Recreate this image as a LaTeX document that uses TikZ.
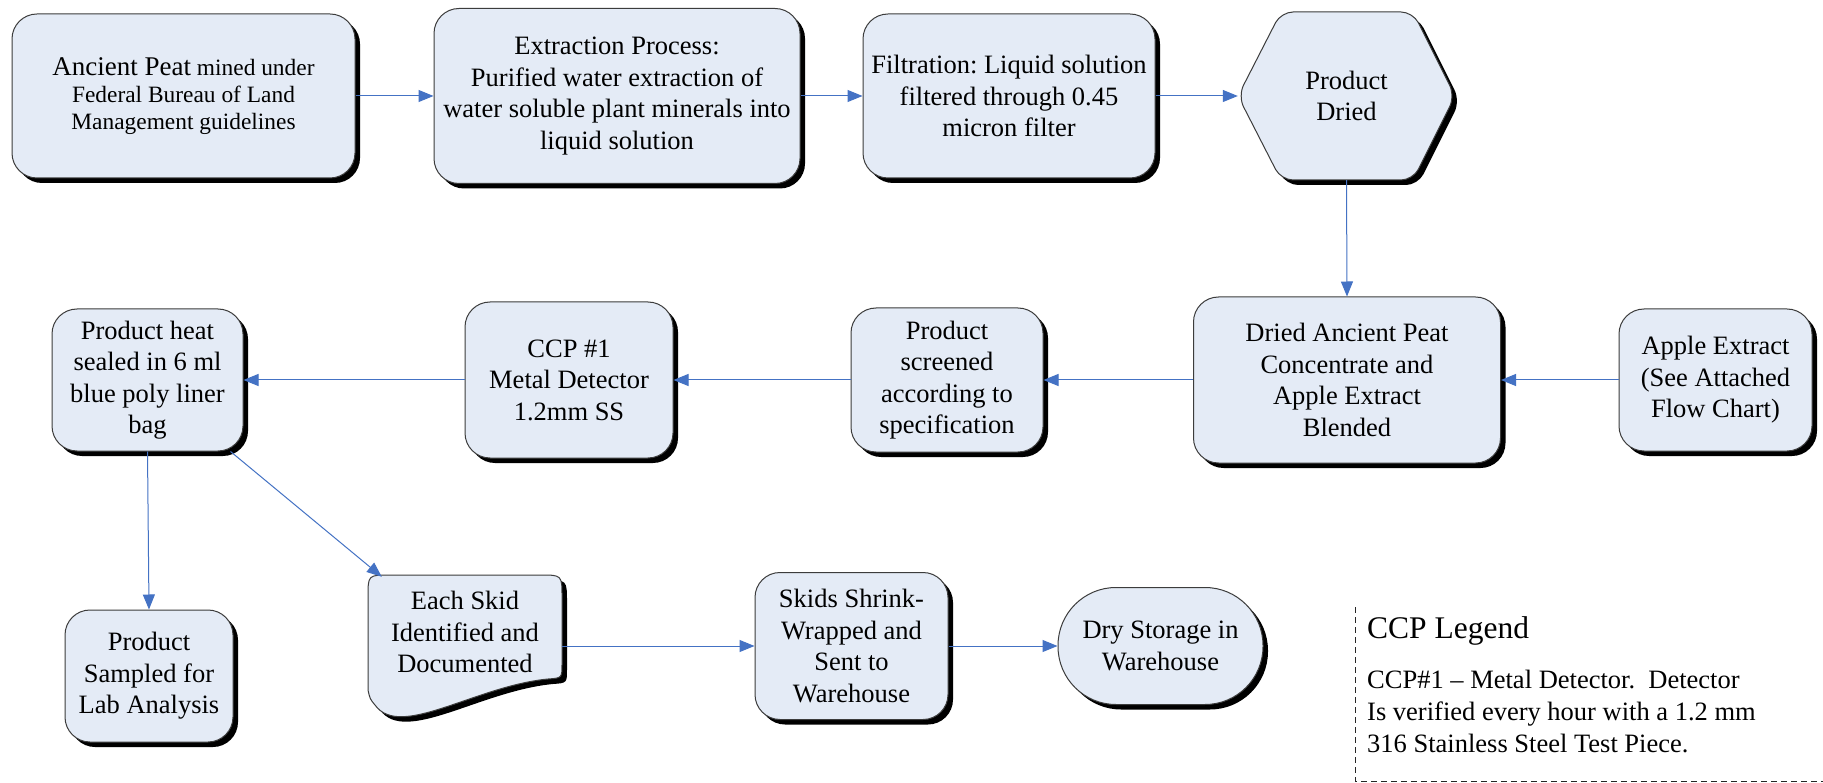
\documentclass[tikz,border=0pt]{standalone}
\usepackage{fontspec}
\setmainfont{Liberation Serif}
\frenchspacing
\usetikzlibrary{arrows.meta,shadows,calc}
\definecolor{boxfill}{RGB}{228,235,246}
\definecolor{arrowblue}{RGB}{68,114,196}
\definecolor{boxline}{RGB}{60,60,60}
\tikzset{
  shad/.style={drop shadow={shadow xshift=5pt,shadow yshift=-5pt,fill=black,opacity=1}},
  shapestyle/.style={draw=boxline,line width=1pt,fill=boxfill,shad},
  procbox/.style={shapestyle,rounded corners=25pt,inner sep=0pt,align=center,font=\fontsize{26.5}{31.5}\selectfont},
  conn/.style={draw=arrowblue,line width=1pt,-{Triangle[length=15pt,width=12pt]}},
  txt/.style={inner sep=0pt,align=center,font=\fontsize{26.5}{31.5}\selectfont},
  ghost/.style={inner sep=0pt,draw=none,fill=none},
  legendline/.style={draw=black!85,line width=1pt,dash pattern=on 6pt off 4pt},
  legendtxt/.style={anchor=base west,inner sep=0pt,font=\fontsize{26.5}{32}\selectfont},
}
\begin{document}
\begin{tikzpicture}[x=1pt,y=-1pt]
\useasboundingbox (0,0) rectangle (1823,783);
\fill[white] (0,0) rectangle (1823,783);

% Row 1
\node[procbox,minimum width=343pt,minimum height=164pt,font=\fontsize{23.4}{27}\selectfont] (peat) at (183.5,96)
  {{\fontsize{27}{27}\selectfont Ancient Peat} mined under\\Federal Bureau of Land\\Management guidelines};
\node[procbox,minimum width=366pt,minimum height=175pt] (extr) at (617,96)
  {Extraction Process:\\Purified water extraction of\\water soluble plant minerals into\\liquid solution};
\node[procbox,minimum width=292pt,minimum height=164pt] (filt) at (1009,96)
  {Filtration: Liquid solution\\filtered through 0.45\\micron filter};
\node[ghost,minimum width=217pt,minimum height=168pt] (hex) at (1346.5,96) {};
\path[shapestyle,rounded corners=12pt] (1238,96) -- (1281,12) -- (1413,12) -- (1455,96) -- (1413,180) -- (1281,180) -- cycle;
\node[txt] (hextext) at (1346.5,96) {Product\\Dried};

% Row 2
\node[procbox,minimum width=307pt,minimum height=166pt] (dried) at (1347,380)
  {Dried Ancient Peat\\Concentrate and\\Apple Extract\\Blended};
\node[procbox,minimum width=193pt,minimum height=142pt] (apple) at (1715.5,380)
  {Apple Extract\\(See Attached\\Flow Chart)};
\node[procbox,minimum width=192pt,minimum height=144pt] (scr) at (947,380)
  {Product\\screened\\according to\\specification};
\node[procbox,minimum width=208pt,minimum height=156pt] (ccp) at (569,380)
  {CCP \#1\\Metal Detector\\1.2mm SS};
\node[procbox,minimum width=191pt,minimum height=142pt] (heat) at (147.5,380)
  {Product heat\\sealed in 6 ml\\blue poly liner\\bag};

% Row 3
\node[procbox,minimum width=168pt,minimum height=132pt] (samp) at (149,676)
  {Product\\Sampled for\\Lab Analysis};
\node[ghost,minimum width=194pt,minimum height=142pt] (skid) at (465,646) {};
\path[shapestyle] (368,690) -- (368,597)
  .. controls (368,575) .. (390,575) -- (540,575)
  .. controls (562,575) .. (562,597) -- (562,664)
  .. controls (562,678) .. (548,679)
  .. controls (475,686) and (400,740) .. (375,705)
  .. controls (370,699) .. (368,690) -- cycle;
\node[txt] (skidtext) at (465,632) {Each Skid\\Identified and\\Documented};
\node[procbox,minimum width=193pt,minimum height=147pt] (shrink) at (851.5,646)
  {Skids Shrink-\\Wrapped and\\Sent to\\Warehouse};
\node[procbox,rounded corners=58pt,minimum width=205pt,minimum height=117pt] (dry) at (1160.5,646)
  {Dry Storage in\\Warehouse};

% Connectors
\draw[conn] (peat.east) -- (extr.west);
\draw[conn] (extr.east) -- (filt.west);
\draw[conn] (filt.east) -- (hex.west);
\draw[conn] (hex.south) -- (dried.north);
\draw[conn] (apple.west) -- (dried.east);
\draw[conn] (dried.west) -- (scr.east);
\draw[conn] (scr.west) -- (ccp.east);
\draw[conn] (ccp.west) -- (heat.east);
\draw[conn] (heat.south) -- (samp.north);
\draw[conn] ($(heat.south east)+(-13,0)$) -- ($(skid.north west)+(14,2)$);
\draw[conn] (skid.east) -- (shrink.west);
\draw[conn] (shrink.east) -- (dry.west);

% Legend
\draw[legendline] (1355,607) -- (1355,781) -- (1823,781);
\node[anchor=base west,inner sep=0pt,font=\fontsize{31.5}{36}\selectfont] (legtitle) at (1367,638) {CCP Legend};
\node[legendtxt] (leg1) at (1367,688) {CCP\#1 – Metal Detector.\ \ Detector};
\node[legendtxt] (leg2) at (1367,720) {Is verified every hour with a 1.2 mm};
\node[legendtxt] (leg3) at (1367,752) {316 Stainless Steel Test Piece.};
\end{tikzpicture}
\end{document}
